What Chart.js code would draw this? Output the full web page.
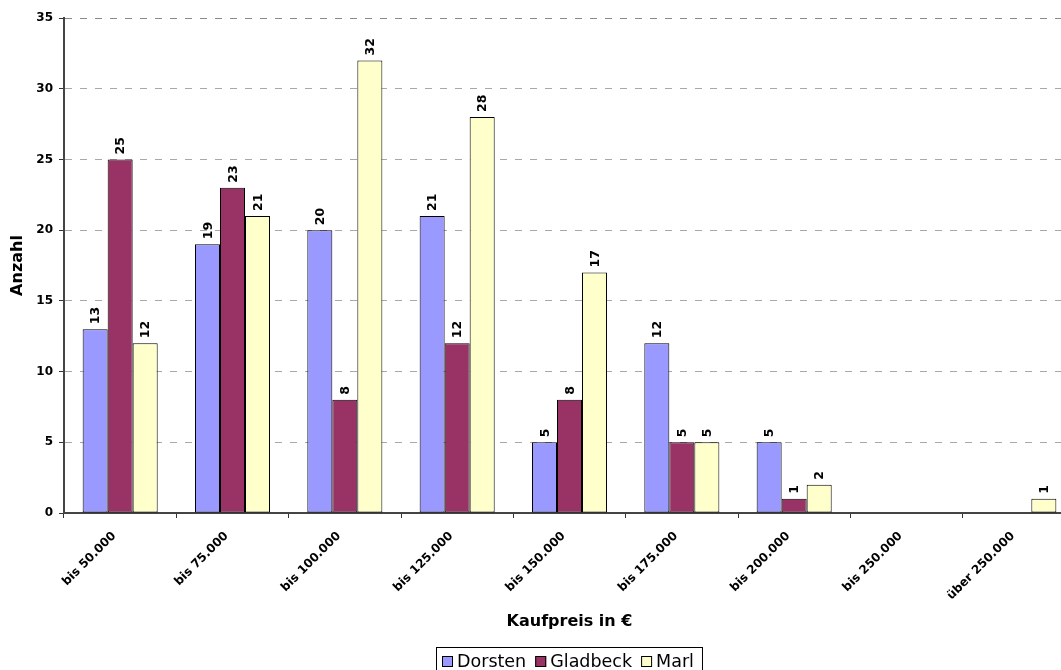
<!DOCTYPE html>
<html>
<head>
<meta charset="utf-8">
<script src="https://cdn.jsdelivr.net/npm/chart.js@4.4.1/dist/chart.umd.min.js"></script>
<style>
  html, body { margin: 0; padding: 0; background: #fff; overflow: hidden; }
  canvas { display: block; }
</style>
</head>
<body>
<canvas id="chart" width="1080" height="670"></canvas>
<script>
// Price bands (x axis)
const categories = ['bis 50.000', 'bis 75.000', 'bis 100.000', 'bis 125.000', 'bis 150.000',
                    'bis 175.000', 'bis 200.000', 'bis 250.000', 'über 250.000'];
// Number of sales per town and price band (empty cells = no sales)
const dorsten  = [13, 19, 20, 21, 5, 12, 5, null, null];
const gladbeck = [25, 23, 8, 12, 8, 5, 1, null, null];
const marl     = [12, 21, 32, 28, 17, 5, 2, null, 1];
// Y axis range
const yMin = 0, yMax = 35, yStep = 5;

const seriesNames  = ['Dorsten', 'Gladbeck', 'Marl'];
const seriesColors = ['#9999FF', '#993366', '#FFFFCC'];
const seriesData   = [dorsten, gladbeck, marl];

const FONT = '"DejaVu Sans", "Liberation Sans", Arial, sans-serif';

// Vertical value labels above each bar
const barValueLabels = {
  id: 'barValueLabels',
  afterDatasetsDraw(chart) {
    const ctx = chart.ctx;
    ctx.save();
    ctx.font = 'bold 12.5px ' + FONT;
    ctx.fillStyle = '#000';
    ctx.textAlign = 'left';
    ctx.textBaseline = 'middle';
    chart.data.datasets.forEach((ds, i) => {
      chart.getDatasetMeta(i).data.forEach((bar, j) => {
        const v = ds.data[j];
        if (v == null) return;
        ctx.save();
        ctx.translate(bar.x + 1, bar.y - 5);
        ctx.rotate(-Math.PI / 2);
        ctx.fillText(String(v), 0, 0);
        ctx.restore();
      });
    });
    ctx.restore();
  }
};

// Framed legend below the axis title
const boxedLegend = {
  id: 'boxedLegend',
  afterDraw(chart) {
    const ctx = chart.ctx;
    ctx.save();
    ctx.font = '17.5px ' + FONT;
    ctx.textBaseline = 'middle';
    ctx.textAlign = 'left';
    const sw = 11, gapAfterSwatch = 4, gapAfterText = 9;
    const startX = 442, midY = 662;
    let x = startX;
    const items = chart.data.datasets.map(ds => ({ label: ds.label, color: ds.backgroundColor }));
    let total = 0;
    items.forEach((it, k) => {
      total += sw + gapAfterSwatch + ctx.measureText(it.label).width + (k < items.length - 1 ? gapAfterText : 0);
    });
    // frame
    ctx.strokeStyle = '#000';
    ctx.lineWidth = 1;
    ctx.strokeRect(startX - 5.5, 647.5, total + 14, 30);
    items.forEach(it => {
      ctx.fillStyle = it.color;
      ctx.fillRect(x, midY - 6, sw, sw);
      ctx.strokeStyle = '#000';
      ctx.strokeRect(x + 0.5, midY - 5.5, sw - 1, sw - 1);
      x += sw + gapAfterSwatch;
      ctx.fillStyle = '#000';
      ctx.fillText(it.label, x, midY);
      x += ctx.measureText(it.label).width + gapAfterText;
    });
    ctx.restore();
  }
};

new Chart(document.getElementById('chart'), {
  type: 'bar',
  data: {
    labels: categories,
    datasets: seriesNames.map((name, i) => ({
      label: name,
      data: seriesData[i],
      backgroundColor: seriesColors[i],
      borderColor: '#000',
      borderWidth: 1,
      borderSkipped: false,
      categoryPercentage: 0.668,
      barPercentage: 1.0
    }))
  },
  options: {
    responsive: false,
    animation: false,
    layout: { padding: { top: 18, right: 5, bottom: 35, left: 0 } },
    plugins: {
      legend: { display: false },
      tooltip: { enabled: false }
    },
    scales: {
      x: {
        afterFit(scale) { scale.height = 122; },
        grid: {
          offset: true,
          drawOnChartArea: false,
          drawTicks: true,
          tickLength: 5,
          tickColor: '#333',
          tickWidth: 1
        },
        border: { display: true, color: '#444', width: 2 },
        ticks: {
          color: '#000',
          font: { family: FONT, size: 12, weight: 'bold' },
          minRotation: 45,
          maxRotation: 45,
          autoSkip: false,
          padding: 11,
          labelOffset: -6
        },
        title: {
          display: true,
          text: 'Kaufpreis in €',
          color: '#000',
          font: { family: FONT, size: 16, weight: 'bold' },
          padding: { top: 4, bottom: 4 }
        }
      },
      y: {
        min: yMin,
        max: yMax,
        afterFit(scale) { scale.width = 64; },
        grid: {
          color: ctx => (ctx.tick && ctx.tick.value === yMin) ? 'rgba(0,0,0,0)'
                      : (ctx.tick && ctx.tick.value === yMax) ? '#8a8a8a' : '#a8a8a8',
          lineWidth: 1,
          drawTicks: true,
          tickLength: 5,
          tickColor: '#333',
          tickWidth: 1,
          tickBorderDash: []
        },
        border: { display: true, color: '#444', width: 2, dash: [7, 8] },
        ticks: {
          stepSize: yStep,
          color: '#000',
          font: { family: FONT, size: 12, weight: 'bold' },
          padding: 6
        },
        title: {
          display: true,
          text: 'Anzahl',
          color: '#000',
          font: { family: FONT, size: 16, weight: 'bold' },
          padding: { top: 8, bottom: 4 }
        }
      }
    }
  },
  plugins: [barValueLabels, boxedLegend]
});
</script>
</body>
</html>
